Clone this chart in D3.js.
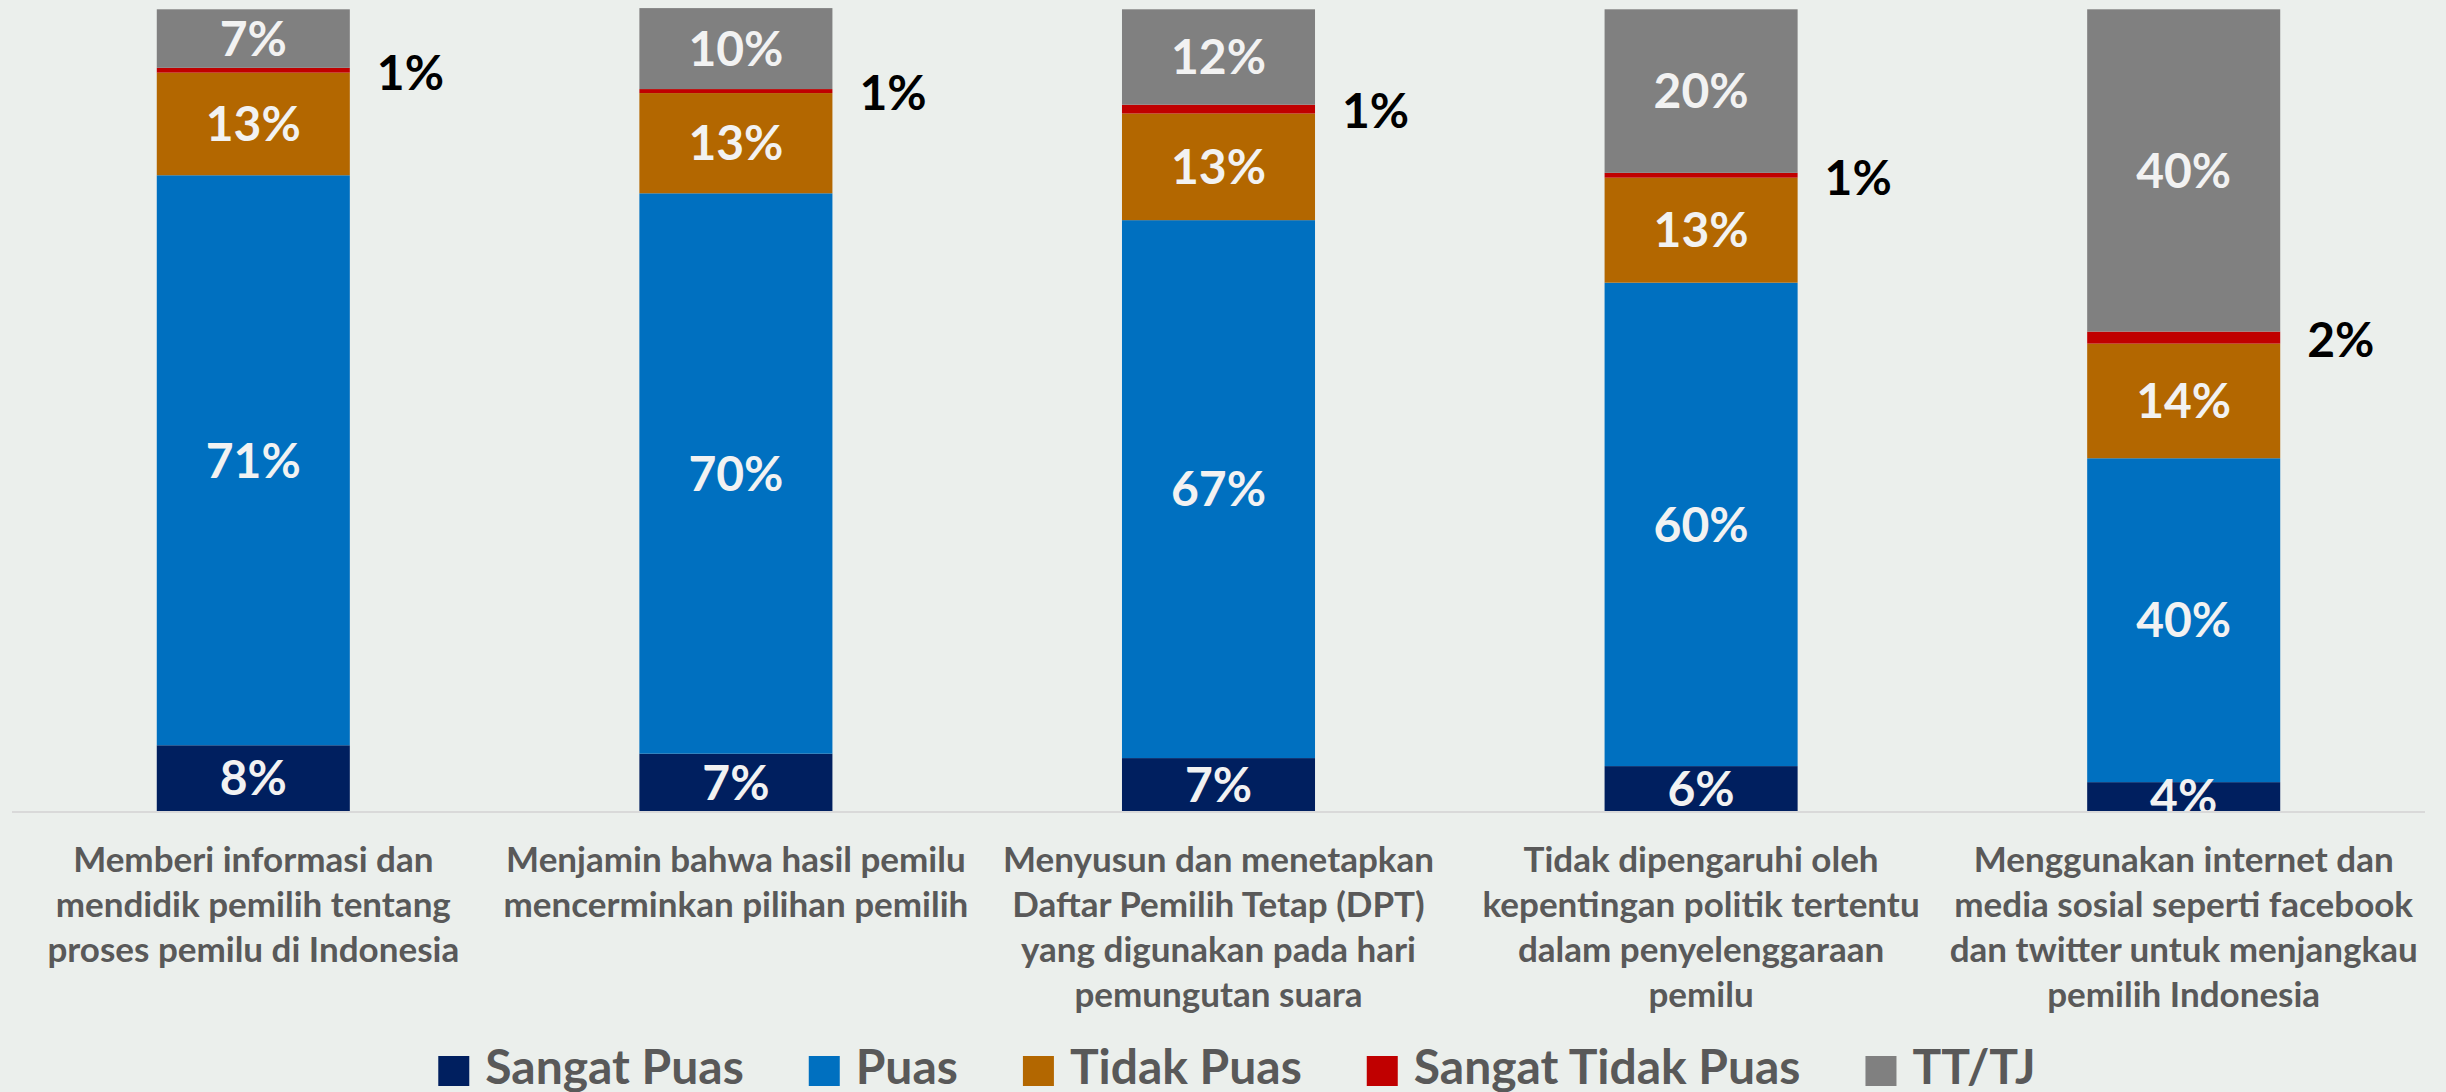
<!DOCTYPE html>
<html>
<head>
<meta charset="utf-8">
<script src="https://cdn.jsdelivr.net/npm/d3@7"></script>
<style>
    html, body { margin: 0; padding: 0; background: #ebefec; }
    svg { display: block; }
    .seg-label { font-family: Lato, "Open Sans", sans-serif; font-weight: 700; fill: #f2f2f2; }
    .out-label { font-family: Lato, "Open Sans", sans-serif; font-weight: 700; fill: #000; }
    .cat-label { font-family: Lato, "Open Sans", sans-serif; font-weight: 700; fill: #595959; }
    .legend-text { font-family: Lato, "Open Sans", sans-serif; font-weight: 700; fill: #595959; }
</style>
</head>
<body>
<svg id="chart"></svg>
<script>
var categories = [
    ["Memberi informasi dan", "mendidik pemilih tentang", "proses pemilu di Indonesia"],
    ["Menjamin bahwa hasil pemilu", "mencerminkan pilihan pemilih"],
    ["Menyusun dan menetapkan", "Daftar Pemilih Tetap (DPT)", "yang digunakan pada hari", "pemungutan suara"],
    ["Tidak dipengaruhi oleh", "kepentingan politik tertentu", "dalam penyelenggaraan", "pemilu"],
    ["Menggunakan internet dan", "media sosial seperti facebook", "dan twitter untuk menjangkau", "pemilih Indonesia"]
];
var seriesNames = ["Sangat Puas", "Puas", "Tidak Puas", "Sangat Tidak Puas", "TT/TJ"];
var seriesColors = ["#001f5f", "#0070c0", "#b36700", "#c00000", "#808080"];

var sangatPuas = [8.2, 7.15, 6.6, 5.6, 3.6];
var puas = [71.1, 69.9, 67.1, 60.3, 40.4];
var tidakPuas = [12.8, 12.5, 13.3, 13.1, 14.3];
var sangatTidakPuas = [0.6, 0.5, 1.1, 0.6, 1.5];
var ttTj = [7.3, 10.1, 11.9, 20.4, 40.2];

var WIDTH = 2446;
var HEIGHT = 1092;
var plot = { left: 12, right: 2425, top: 9.3, bottom: 811 };

var seriesValues = [sangatPuas, puas, tidakPuas, sangatTidakPuas, ttTj];
var table = categories.map(function(c, i) {
    var row = { idx: i };
    seriesNames.forEach(function(name, s) { row[name] = seriesValues[s][i]; });
    return row;
});

var svg = d3.select("#chart")
    .attr("width", WIDTH)
    .attr("height", HEIGHT);

var x = d3.scaleBand()
    .domain(d3.range(categories.length))
    .range([plot.left, plot.right])
    .paddingInner(0.6)
    .paddingOuter(0.3);

var y = d3.scaleLinear()
    .domain([0, 100])
    .range([plot.bottom, plot.top]);

var color = d3.scaleOrdinal().domain(seriesNames).range(seriesColors);

var stacked = d3.stack().keys(seriesNames)(table);

svg.append("defs").append("clipPath")
    .attr("id", "plot-clip")
    .append("rect")
    .attr("x", 0)
    .attr("y", 0)
    .attr("width", WIDTH)
    .attr("height", plot.bottom);

var layers = svg.append("g").selectAll("g")
    .data(stacked)
    .join("g")
    .attr("fill", function(d) { return color(d.key); });

layers.selectAll("rect")
    .data(function(d) { return d; })
    .join("rect")
    .attr("x", function(d) { return x(d.data.idx); })
    .attr("width", x.bandwidth())
    .attr("y", function(d) { return y(d[1]); })
    .attr("height", function(d) { return y(d[0]) - y(d[1]); });

// axis line
svg.append("line")
    .attr("x1", plot.left)
    .attr("x2", plot.right)
    .attr("y1", plot.bottom + 1)
    .attr("y2", plot.bottom + 1)
    .attr("stroke", "#d9d9d9")
    .attr("stroke-width", 2);

// labels inside segments
var labelLayer = svg.append("g").attr("clip-path", "url(#plot-clip)");
stacked.forEach(function(layer) {
    if (layer.key === "Sangat Tidak Puas") return;
    labelLayer.selectAll(null)
        .data(layer)
        .join("text")
        .attr("class", "seg-label")
        .attr("x", function(d) { return x(d.data.idx) + x.bandwidth() / 2; })
        .attr("y", function(d) { return (y(d[0]) + y(d[1])) / 2; })
        .attr("dy", "0.36em")
        .attr("text-anchor", "middle")
        .attr("font-size", 48)
        .text(function(d) { return Math.round(d[1] - d[0]) + "%"; });
});

// small segment labels to the right
var redLayer = stacked[3];
svg.append("g").selectAll("text")
    .data(redLayer)
    .join("text")
    .attr("class", "out-label")
    .attr("x", function(d) { return x(d.data.idx) + x.bandwidth() + 27; })
    .attr("y", function(d) { return (y(d[0]) + y(d[1])) / 2 + 2; })
    .attr("dy", "0.36em")
    .attr("font-size", 48)
    .text(function(d) { return Math.round(d[1] - d[0]) + "%"; });

// category labels
var catGroups = svg.append("g").selectAll("text")
    .data(categories)
    .join("text")
    .attr("class", "cat-label")
    .attr("font-size", 35)
    .attr("text-anchor", "middle");

catGroups.selectAll("tspan")
    .data(function(lines, i) { return lines.map(function(l) { return { text: l, idx: i }; }); })
    .join("tspan")
    .attr("x", function(d) { return x(d.idx) + x.bandwidth() / 2; })
    .attr("y", function(d, j) { return 871.5 + j * 45; })
    .text(function(d) { return d.text; });

// legend
var legend = svg.append("g");
var items = legend.selectAll("g")
    .data(seriesNames)
    .join("g");

items.append("rect")
    .attr("width", 31)
    .attr("height", 30)
    .attr("y", 1056)
    .attr("fill", function(d) { return color(d); });

items.append("text")
    .attr("class", "legend-text")
    .attr("x", 47)
    .attr("y", 1084)
    .attr("font-size", 48)
    .text(function(d) { return d; });

var cursor = 0;
var offsets = [];
items.each(function() {
    var w = 47 + d3.select(this).select("text").node().getComputedTextLength();
    offsets.push(cursor);
    cursor += w + 65;
});
var total = cursor - 65;
var start = 1237 - total / 2;
items.attr("transform", function(d, i) { return "translate(" + (start + offsets[i]) + ",0)"; });
</script>
</body>
</html>
